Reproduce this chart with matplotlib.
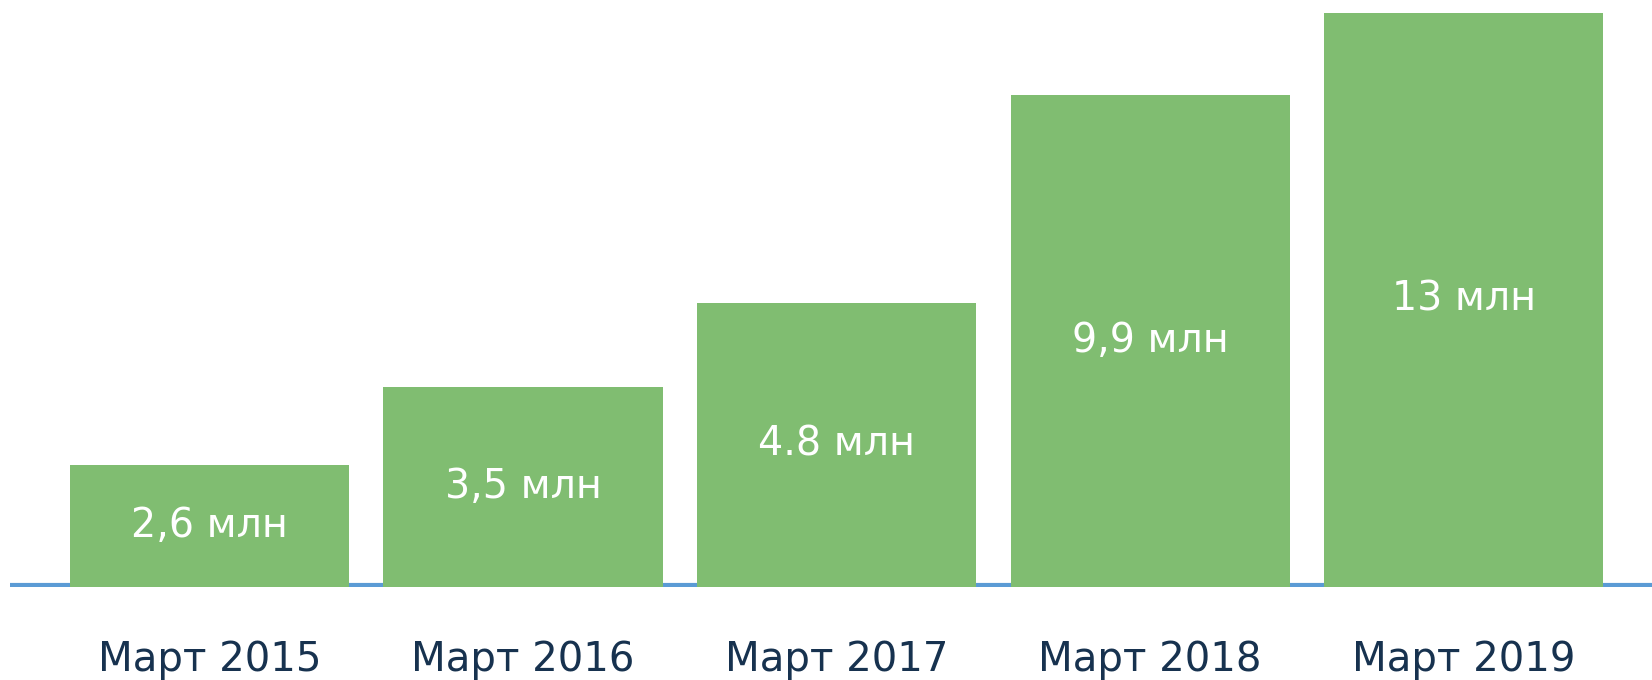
import matplotlib.pyplot as plt

# данные с картинки
periods = ["Март 2015", "Март 2016", "Март 2017", "Март 2018", "Март 2019"]
bar_heights = [2.76, 4.53, 6.43, 11.14, 13.0]   # высоты столбцов как нарисованы
value_labels = ["2,6 млн", "3,5 млн", "4.8 млн", "9,9 млн", "13 млн"]

fig = plt.figure(figsize=(16.52, 6.8), dpi=100)
ax = fig.add_axes([10 / 1652, 1 - 587 / 680, 1642 / 1652, 587 / 680])

x = list(range(len(periods)))
ax.bar(x, bar_heights, width=0.89, color="#80bd71", zorder=2)
ax.axhline(0.05, color="#5b9bd5", lw=3, zorder=1)

for xi, h, lab in zip(x, bar_heights, value_labels):
    ax.text(xi, h / 2, lab, ha="center", va="center", color="white",
            fontsize=28.5, family="DejaVu Sans")

ax.set_xlim(-0.636, 4.6)
ax.set_ylim(0, 13.29)
ax.set_xticks(x)
ax.set_xticklabels(periods, fontsize=29, color="#17324f")
ax.tick_params(axis="x", length=0, pad=38)
ax.set_yticks([])
for s in ax.spines.values():
    s.set_visible(False)

fig.savefig("out.png", dpi=100)
